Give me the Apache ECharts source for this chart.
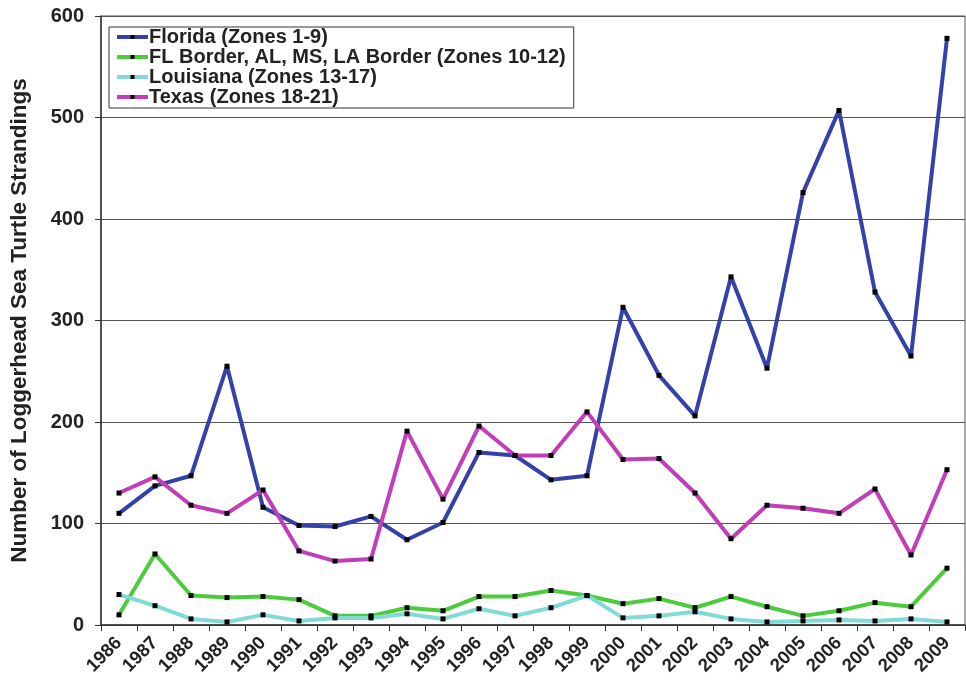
<!DOCTYPE html>
<html>
<head>
<meta charset="utf-8">
<script src="https://cdn.jsdelivr.net/npm/echarts@6/dist/echarts.min.js"></script>
<style>
  html, body { margin: 0; padding: 0; background: #fff; }
  #main { width: 966px; height: 685px; }
</style>
</head>
<body>
<div id="main"></div>
<script>
var years = ['1986','1987','1988','1989','1990','1991','1992','1993','1994','1995','1996','1997',
             '1998','1999','2000','2001','2002','2003','2004','2005','2006','2007','2008','2009'];
var florida   = [110,137,147,255,116,98,97,107,84,101,170,167,143,147,313,246,206,343,253,426,507,328,265,578];
var flBorder  = [10,70,29,27,28,25,9,9,17,14,28,28,34,29,21,26,17,28,18,9,14,22,18,56];
var louisiana = [30,19,6,3,10,4,7,7,11,6,16,9,17,29,7,9,13,6,3,4,5,4,6,3];
var texas     = [130,146,118,110,133,73,63,65,191,124,196,167,167,210,163,164,130,85,118,115,110,134,69,153];
var yTicks = [0,100,200,300,400,500,600];

var font = 'Liberation Sans, Arial, sans-serif';

function line(name, data, color) {
    return {
        name: name,
        type: 'line',
        data: data,
        symbol: 'rect',
        symbolSize: 5,
        showAllSymbol: true,
        itemStyle: {color: '#000'},
        lineStyle: {color: color, width: 4},
        emphasis: {disabled: true},
        z: 3
    };
}

var myChart = echarts.init(document.getElementById('main'));
var option = {
    animation: false,
    textStyle: {fontFamily: font},
    grid: {
        left: 98, top: 16, right: 1, bottom: 60,
        show: true, borderColor: '#555', borderWidth: 1
    },
    legend: {
        orient: 'vertical',
        left: 109, top: 27,
        itemWidth: 31, itemHeight: 5, itemGap: 0,
        padding: [0, 8, 1, 6],
        borderColor: '#333', borderWidth: 1,
        backgroundColor: '#fff',
        lineStyle: {width: 4},
        textStyle: {fontFamily: font, fontSize: 20, fontWeight: 'bold', color: '#222', lineHeight: 19.5, padding: [0, 0, 0, -4]},
        data: ['Florida (Zones 1-9)', 'FL Border, AL, MS, LA Border (Zones 10-12)',
               'Louisiana (Zones 13-17)', 'Texas (Zones 18-21)']
    },
    xAxis: {
        type: 'category',
        data: years,
        boundaryGap: true,
        axisLine: {lineStyle: {color: '#333', width: 1.5}},
        axisTick: {show: true, length: 6, lineStyle: {color: '#333'}},
        axisLabel: {
            rotate: 45, interval: 0, margin: 15,
            fontFamily: font, fontSize: 18.5, fontWeight: 'bold', color: '#222'
        }
    },
    yAxis: {
        type: 'value',
        min: 0, max: 600, interval: 100,
        name: 'Number of Loggerhead Sea Turtle Strandings',
        nameLocation: 'middle',
        nameGap: 70,
        nameTextStyle: {fontFamily: font, fontSize: 22.5, fontWeight: 'bold', color: '#222'},
        axisLine: {show: true, lineStyle: {color: '#333', width: 1.5}},
        axisTick: {show: true, length: 6, lineStyle: {color: '#333'}},
        splitLine: {lineStyle: {color: '#555', width: 1}},
        axisLabel: {
            margin: 17, fontFamily: font, fontSize: 20, fontWeight: 'bold', color: '#222',
            formatter: function (v) { return yTicks.indexOf(v) >= 0 ? String(v) : ''; }
        }
    },
    series: [
        line('Florida (Zones 1-9)', florida, '#3441a8'),
        line('FL Border, AL, MS, LA Border (Zones 10-12)', flBorder, '#4ccb3c'),
        line('Louisiana (Zones 13-17)', louisiana, '#80dbd6'),
        line('Texas (Zones 18-21)', texas, '#c23db8')
    ]
};
myChart.setOption(option);
</script>
</body>
</html>
